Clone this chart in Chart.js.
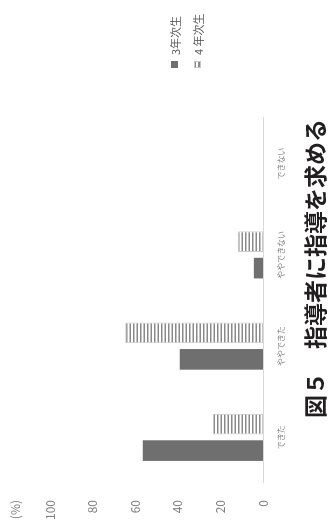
<!DOCTYPE html>
<html>
<head>
<meta charset="utf-8">
<script src="https://cdn.jsdelivr.net/npm/chart.js/dist/chart.umd.min.js"></script>
<style>
    html, body { margin: 0; padding: 0; background: #fff; overflow: hidden; }
    /* the figure is laid out upright and turned a quarter turn to the left */
    #wrap {
        position: absolute; left: 0; top: 0;
        width: 524px; height: 330px;
        transform-origin: 0 0;
        transform: translateY(524px) rotate(-90deg);
        font-family: "Noto Sans CJK JP", sans-serif;
    }
    #legend {
        position: absolute; left: 456px; top: 163px;
        font-size: 11px; color: #595959;
    }
    .item { display: flex; align-items: center; height: 23px; }
    .box { width: 7px; height: 7px; margin-right: 6px; box-sizing: border-box; }
    .dark { background: #6f6f6f; }
    .striped {
        border: 1px solid #c8c8c8;
        background: repeating-linear-gradient(to bottom, #8a8a8a 0 1.5px, #fff 1.5px 3.5px);
    }
    #title {
        position: absolute; left: 0; top: 303px; width: 511px;
        text-align: center; font-size: 23px; line-height: 23px;
        font-weight: bold; color: #231f20;
    }
</style>
</head>
<body>
<div id="wrap">
    <canvas id="chart" width="524" height="330"></canvas>
    <div id="legend"></div>
    <div id="title">図５　指導者に指導を求める</div>
</div>
<script>
    // データ
    const categories = ['できた', 'ややできた', 'ややできない', 'できない'];
    const seriesNames = ['3年次生', '4 年次生'];
    const year3 = [56.5, 39.1, 4.3, 0];
    const year4 = [23.5, 64.7, 11.8, 0];
    const yTicks = [0, 20, 40, 60, 80, 100];
    const unitLabel = '(%)';

    const font = '"Noto Sans CJK JP", sans-serif';

    // 横縞のパターン
    const tile = document.createElement('canvas');
    tile.width = 4;
    tile.height = 7;
    const tctx = tile.getContext('2d');
    tctx.fillStyle = '#ffffff';
    tctx.fillRect(0, 0, 4, 7);
    tctx.fillStyle = '#8a8a8a';
    tctx.fillRect(0, 0, 4, 1.5);
    tctx.fillRect(0, 3.5, 4, 1.5);
    const ctx = document.getElementById('chart').getContext('2d');
    const stripes = ctx.createPattern(tile, 'repeat');

    // (%) を目盛りの上に書く
    const unitPlugin = {
        id: 'unitLabel',
        afterDraw(chart) {
            const s = chart.scales.y;
            const c = chart.ctx;
            c.save();
            c.font = '12px ' + font;
            c.fillStyle = '#808080';
            c.textAlign = 'right';
            c.textBaseline = 'middle';
            c.fillText(unitLabel, s.right - 17, s.getPixelForValue(yTicks[yTicks.length - 1] + 16));
            c.restore();
        }
    };

    const chart = new Chart(ctx, {
        type: 'bar',
        data: {
            labels: categories,
            datasets: [
                {
                    label: seriesNames[0],
                    data: year3,
                    backgroundColor: '#6f6f6f',
                    borderWidth: 0
                },
                {
                    label: seriesNames[1],
                    data: year4,
                    backgroundColor: stripes,
                    borderColor: '#c8c8c8',
                    borderWidth: 1
                }
            ]
        },
        plugins: [unitPlugin],
        options: {
            responsive: false,
            animation: false,
            layout: { padding: { top: 50, right: 118, bottom: 0, left: 0 } },
            datasets: {
                bar: { categoryPercentage: 0.58, barPercentage: 0.78 }
            },
            plugins: {
                legend: { display: false },
                tooltip: { enabled: false }
            },
            scales: {
                x: {
                    grid: { display: false, drawTicks: false },
                    border: { color: '#d9d9d9', width: 1 },
                    ticks: { font: { size: 8, family: font }, color: '#7f7f7f', padding: 13, maxRotation: 0 },
                    afterFit: s => { s.height = 67; }
                },
                y: {
                    min: yTicks[0],
                    max: yTicks[yTicks.length - 1],
                    ticks: { stepSize: 20, padding: 17, font: { size: 12, family: font }, color: '#808080' },
                    grid: { display: false, drawTicks: false },
                    border: { display: false },
                    afterFit: s => { s.width = 41; }
                }
            }
        }
    });

    // 凡例
    const legend = document.getElementById('legend');
    seriesNames.forEach((name, i) => {
        const row = document.createElement('div');
        row.className = 'item';
        const box = document.createElement('span');
        box.className = 'box ' + (i === 0 ? 'dark' : 'striped');
        const text = document.createElement('span');
        text.textContent = name;
        row.appendChild(box);
        row.appendChild(text);
        legend.appendChild(row);
    });
</script>
</body>
</html>
